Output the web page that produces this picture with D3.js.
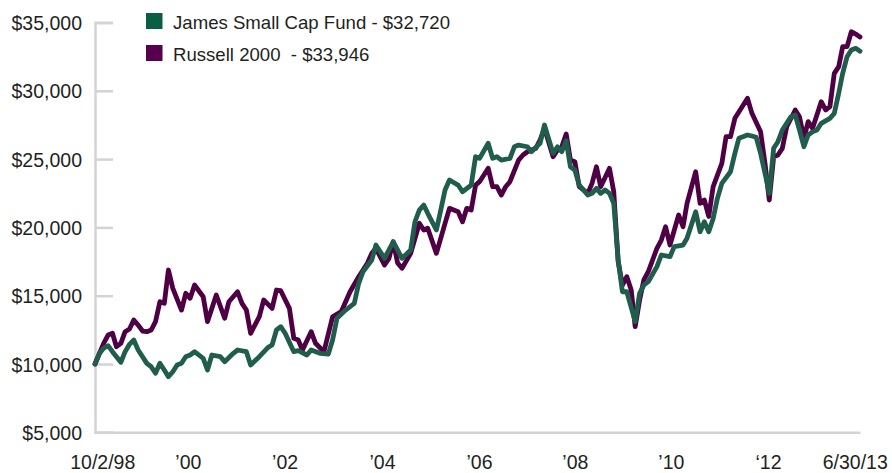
<!DOCTYPE html>
<html>
<head>
<meta charset="utf-8">
<script src="https://cdn.jsdelivr.net/npm/d3@7"></script>
<style>
  html, body { margin: 0; padding: 0; background: #fff; }
  svg { display: block; }
  text { font-family: "Liberation Sans", Arial, Helvetica, sans-serif; fill: #231f20; }
</style>
</head>
<body>
<svg id="chart" width="892" height="473"></svg>
<script>
// ---------- DATA ----------
const russellDates = ["1998-10","1998-12","1999-01","1999-02","1999-03","1999-04","1999-05","1999-06","1999-07","1999-08","1999-09","1999-10","1999-11","1999-12",
"2000-01","2000-02","2000-03","2000-04","2000-06","2000-07","2000-08","2000-09","2000-11","2000-12",
"2001-02","2001-04","2001-05","2001-07","2001-08","2001-09","2001-10","2001-12",
"2002-01","2002-03","2002-04","2002-05","2002-07","2002-08","2002-09","2002-10","2002-12",
"2003-01","2003-03","2003-05","2003-07","2003-09","2003-11",
"2004-01","2004-02","2004-03","2004-05","2004-06","2004-07","2004-08","2004-09","2004-11",
"2005-01","2005-02","2005-03","2005-05","2005-07","2005-08","2005-10","2005-11","2005-12",
"2006-01","2006-02","2006-03","2006-05","2006-06","2006-07","2006-08","2006-09","2006-10","2006-12",
"2007-01","2007-02","2007-04","2007-05","2007-06","2007-08","2007-09","2007-10","2007-11","2007-12",
"2008-01","2008-02","2008-04","2008-05","2008-06","2008-07","2008-09","2008-10","2008-11","2008-12",
"2009-01","2009-02","2009-03","2009-04","2009-05","2009-06","2009-08","2009-09","2009-10","2009-11",
"2010-01","2010-02","2010-03","2010-05","2010-06","2010-07","2010-08","2010-09","2010-11","2010-12",
"2011-01","2011-02","2011-05","2011-06","2011-08","2011-09","2011-10","2011-11","2011-12",
"2012-01","2012-02","2012-04","2012-05","2012-06","2012-07","2012-08","2012-10","2012-11","2012-12",
"2013-01","2013-02","2013-03","2013-04","2013-05","2013-06","2013-07"];
const russellValues = [10000,11515,12120,12250,11265,11515,12365,12560,13220,12850,12415,12365,12490,13100,
14560,14440,16880,15540,13950,15175,14810,15780,14925,13100,
15050,13345,14560,15290,14440,13950,12250,13460,
14685,14075,15415,15365,14075,11880,11755,11025,12365,
11515,10900,13460,13830,15290,16390,
17370,18100,18470,17245,17735,18950,17400,17005,18100,
20300,19810,19935,18100,20300,21395,21150,20415,21395,
21270,23100,23345,24325,22980,22980,22370,22980,23345,24930,
25300,25540,25790,26400,27250,25175,25665,25905,26840,24930,
24810,22980,22495,23225,24440,22980,24325,22610,17500,15780,
16390,15415,12730,14685,16150,16755,18470,19075,20050,18710,
20905,20050,21760,24075,21760,22005,20800,22980,24690,26640,
26640,27985,29450,28350,27005,24690,22005,25175,25300,
25790,27370,28595,28105,26520,27740,27250,29200,28595,28840,
31280,31765,33230,33230,34325,34155,33946];

const jamesDates = ["1998-10","1998-11","1998-12","1999-01","1999-02","1999-04","1999-05","1999-06","1999-07","1999-08","1999-10","1999-11","1999-12",
"2000-01","2000-02","2000-03","2000-04","2000-05","2000-06","2000-07","2000-08","2000-09","2000-11","2000-12",
"2001-01","2001-03","2001-04","2001-06","2001-07","2001-09","2001-10","2001-12",
"2002-02","2002-03","2002-04","2002-05","2002-06","2002-08","2002-09","2002-11","2002-12",
"2003-02","2003-04","2003-05","2003-06","2003-08","2003-10","2003-11","2003-12",
"2004-02","2004-03","2004-05","2004-07","2004-09","2004-11","2004-12",
"2005-01","2005-02","2005-03","2005-05","2005-06","2005-07","2005-08","2005-10","2005-11",
"2006-01","2006-02","2006-03","2006-05","2006-06","2006-07","2006-08","2006-10","2006-11","2006-12",
"2007-02","2007-03","2007-05","2007-06","2007-08","2007-09","2007-10","2007-11","2007-12",
"2008-01","2008-02","2008-04","2008-05","2008-06","2008-07","2008-08","2008-09","2008-10","2008-11","2008-12",
"2009-01","2009-03","2009-04","2009-05","2009-06","2009-08","2009-09","2009-11","2009-12",
"2010-02","2010-03","2010-05","2010-06","2010-07","2010-08","2010-09","2010-10","2010-11",
"2011-01","2011-02","2011-03","2011-05","2011-06","2011-07","2011-08","2011-09","2011-10","2011-11","2011-12",
"2012-01","2012-03","2012-04","2012-05","2012-06","2012-07","2012-08","2012-09","2012-10","2012-12",
"2013-01","2013-02","2013-03","2013-04","2013-05","2013-06","2013-07"];
const jamesValues = [10000,10780,11150,11340,10900,10125,10900,11440,11755,11025,10050,9800,9320,
10050,9560,9070,9435,9925,10050,10535,10660,10900,10415,9560,
10660,10535,10170,10780,11025,10900,9925,10535,
11220,11390,12490,12730,12250,10900,10975,10660,11025,
10780,10730,11755,13345,13950,14440,15905,16755,
17610,18710,17735,18950,17735,18345,20415,
21270,21640,21030,19810,21270,22735,23470,23100,22610,
23100,25175,25055,26155,25055,25175,24930,25055,25905,26030,
25905,25540,26155,27495,25420,25905,25540,26345,24440,
24200,23100,22370,22495,22860,22495,22735,22495,21760,17610,15290,
15290,13100,15175,15780,16025,17125,17980,17855,18590,
18710,19200,21150,19685,20415,19685,20660,22130,23225,
24075,25420,26520,26765,26690,26595,25420,23960,22495,25790,26275,
27130,28105,28225,27130,25905,26765,27005,27130,27620,27985,
28350,29815,31280,32495,32985,33110,32900];

const seriesNames = ["James Small Cap Fund - $32,720", "Russell 2000  - $33,946"];
const seriesColors = ["#215d4c", "#4f0045"];
const legendColors = ["#0b5e44", "#57004e"];

const yTicks = [5000, 10000, 15000, 20000, 25000, 30000, 35000];
const xTickDates = ["1998-11-21","2000-07-16","2002-05-28","2004-04-13","2006-02-25","2008-01-01","2009-11-07","2011-09-22","2013-05-25"];
const xTickLabels = ["10/2/98", "\u201900", "\u201902", "\u201904", "\u201906", "\u201908", "\u201910", "\u201812", "6/30/13"];

// ---------- CHART ----------
const svg = d3.select("#chart");
const parseM = d3.timeParse("%Y-%m");
const parseD = d3.timeParse("%Y-%m-%d");

const x = d3.scaleTime()
  .domain([parseM("1998-10"), parseM("2013-07")])
  .range([95, 860]);
const y = d3.scaleLinear()
  .domain([5000, 35000])
  .range([432.3, 22.5]);

const axisColor = "#d3d3d3";

// Y axis
const yAxis = svg.append("g")
  .attr("transform", "translate(95,0)")
  .call(d3.axisLeft(y).tickValues(yTicks).tickSize(-18).tickPadding(13)
    .tickFormat(d => "$" + d3.format(",")(d)));
yAxis.select(".domain").attr("stroke", axisColor).attr("stroke-width", 2.5);
yAxis.selectAll(".tick line").attr("stroke", axisColor).attr("stroke-width", 2.5);
yAxis.selectAll(".tick text").style("font-size", "19.5px").attr("dy", "0.36em")
  .style("font-family", "'Liberation Sans', Arial, sans-serif").attr("fill", "#231f20");

// X axis
const xAxis = svg.append("g")
  .attr("transform", "translate(0," + y(5000) + ")")
  .call(d3.axisBottom(x).tickValues(xTickDates.map(parseD)).tickSize(0).tickPadding(23)
    .tickFormat((d, i) => xTickLabels[i]));
xAxis.select(".domain").attr("stroke", axisColor).attr("stroke-width", 2.5);
xAxis.selectAll(".tick text").style("font-size", "19.5px")
  .style("font-family", "'Liberation Sans', Arial, sans-serif").attr("fill", "#231f20");

// Lines
const line = d3.line()
  .x(d => x(d.date))
  .y(d => y(d.value));

const russell = russellDates.map((d, i) => ({ date: parseM(d), value: russellValues[i] }));
const james = jamesDates.map((d, i) => ({ date: parseM(d), value: jamesValues[i] }));

svg.append("path").datum(russell)
  .attr("d", line).attr("fill", "none")
  .attr("stroke", seriesColors[1]).attr("stroke-width", 4.8)
  .attr("stroke-linejoin", "round").attr("stroke-linecap", "round");
svg.append("path").datum(james)
  .attr("d", line).attr("fill", "none")
  .attr("stroke", seriesColors[0]).attr("stroke-width", 4.8)
  .attr("stroke-linejoin", "round").attr("stroke-linecap", "round");

// Legend
const legend = svg.append("g").attr("transform", "translate(146,13)");
seriesNames.forEach((name, i) => {
  const g = legend.append("g").attr("transform", "translate(0," + (i * 32) + ")");
  g.append("rect").attr("width", 16.5).attr("height", 16).attr("fill", legendColors[i]);
  g.append("text").attr("x", 27).attr("y", 15.5)
    .style("font-size", "18.6px").style("white-space", "pre")
    .attr("xml:space", "preserve")
    .text(name);
});
</script>
</body>
</html>
